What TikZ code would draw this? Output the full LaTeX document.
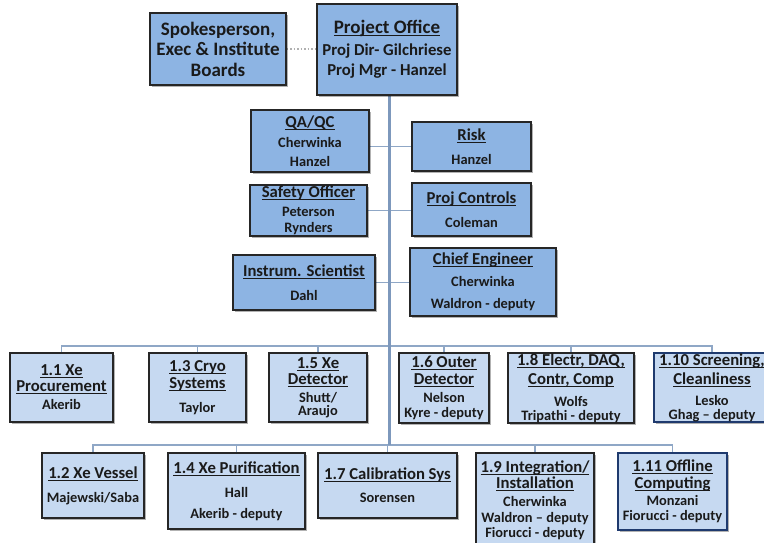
\documentclass[tikz,border=0pt]{standalone}
\usepackage{fontspec}
\setmainfont{Carlito}
\usetikzlibrary{shadows}
\definecolor{topfill}{HTML}{8DB4E3}
\definecolor{wbsfill}{HTML}{C6D9F1}
\definecolor{edgec}{HTML}{262626}
\definecolor{navy}{HTML}{1F3A6E}
\definecolor{linec}{HTML}{8FA7C6}
\definecolor{trunkc}{HTML}{7D98BC}
\definecolor{dotc}{HTML}{B0B0B0}
\definecolor{txt}{HTML}{1A1A1A}
\pgfdeclarelayer{bg}
\pgfsetlayers{bg,main}
\newcommand{\ttl}[2][16.7]{{\fontsize{#1}{16}\selectfont\setbox0\hbox{#2}\rlap{\rule[-2.2pt]{\wd0}{0.7pt}}\box0}}
\tikzset{
  box/.style={draw=edgec, line width=1.3pt, rectangle, align=center, text=txt, inner sep=0pt,
    font=\fontsize{14.4}{16}\selectfont\bfseries,
    drop shadow={opacity=0.3, shadow xshift=2pt, shadow yshift=-2pt, fill=black}},
  topbox/.style={box, fill=topfill},
  wbsbox/.style={box, fill=wbsfill},
  conn/.style={draw=linec, line width=1.7pt},
  trunk/.style={draw=trunkc, line width=3pt},
  dotline/.style={draw=dotc, line width=1.5pt, dotted},
}
\begin{document}
\begin{tikzpicture}[x=1pt,y=-1pt]
\clip (0,0) rectangle (764,543);

\coordinate (b1) at (389,346);
\coordinate (b2) at (389,445);

% nodes
\node[topbox, minimum width=136pt, minimum height=72pt, font=\fontsize{19}{20.5}\selectfont\bfseries] (spoke) at (218,49)
  {Spokesperson,\\Exec \& Institute\\Boards};
\node[topbox, minimum width=140pt, minimum height=91pt, font=\fontsize{16.7}{20}\selectfont\bfseries] (po) at (387,49.5)
  {\ttl[19]{Project Office}\\[2pt]Proj Dir- Gilchriese\\Proj Mgr - Hanzel};

\node[topbox, minimum width=118pt, minimum height=62pt] (qa) at (310,141)
  {\ttl{QA/QC}\\[4pt]Cherwinka\\[3pt]Hanzel};
\node[topbox, minimum width=119pt, minimum height=49pt] (risk) at (471.5,146.5)
  {\ttl{Risk}\\[8pt]Hanzel};
\node[topbox, minimum width=117pt, minimum height=51pt] (safety) at (308.5,210.5)
  {\ttl{Safety Officer}\\[3pt]Peterson\\Rynders};
\node[topbox, minimum width=119pt, minimum height=53pt] (pc) at (471.5,209.5)
  {\ttl{Proj Controls}\\[8pt]Coleman};
\node[topbox, minimum width=142pt, minimum height=55pt] (instr) at (304,282.5)
  {\ttl{Instrum. Scientist}\\[8pt]Dahl};
\node[topbox, minimum width=146pt, minimum height=68pt] (chief) at (483,282)
  {\ttl{Chief Engineer}\\[6pt]Cherwinka\\[6pt]Waldron - deputy};

\node[wbsbox, minimum width=103pt, minimum height=69pt] (w11) at (61.5,387.5)
  {\ttl{1.1 Xe}\\[0pt]\ttl{Procurement}\\[2pt]Akerib};
\node[wbsbox, minimum width=97pt, minimum height=69pt] (w13) at (197.5,387.5)
  {\ttl{1.3 Cryo}\\[1pt]\ttl{Systems}\\[8pt]Taylor};
\node[wbsbox, minimum width=98pt, minimum height=69pt] (w15) at (318,387.5)
  {\ttl{1.5 Xe}\\[0pt]\ttl{Detector}\\[2pt]Shutt/\\[-3pt]Araujo};
\node[wbsbox, minimum width=90pt, minimum height=70pt] (w16) at (444,388)
  {\ttl{1.6 Outer}\\[1pt]\ttl{Detector}\\[2pt]Nelson\\[-1pt]Kyre - deputy};
\node[wbsbox, minimum width=126pt, minimum height=70pt] (w18) at (571,388)
  {\ttl{1.8 Electr, DAQ,}\\[3pt]\ttl{Contr, Comp}\\[6pt]Wolfs\\[-2pt]Tripathi - deputy};
\node[wbsbox, draw=navy, minimum width=116pt, minimum height=69pt] (w110) at (712,387.5)
  {\ttl{1.10 Screening,}\\[3pt]\ttl{Cleanliness}\\[5pt]Lesko\\[-2pt]Ghag -- deputy};

\node[wbsbox, minimum width=102pt, minimum height=65pt] (w12) at (93,485.5)
  {\ttl{1.2 Xe Vessel}\\[8pt]Majewski/Saba};
\node[wbsbox, minimum width=137pt, minimum height=76pt] (w14) at (236.5,491)
  {\ttl{1.4 Xe Purification}\\[8pt]Hall\\[5pt]Akerib - deputy};
\node[wbsbox, minimum width=139pt, minimum height=65pt] (w17) at (387.5,485.5)
  {\ttl{1.7 Calibration Sys}\\[7pt]Sorensen};
\node[wbsbox, minimum width=118pt, minimum height=94pt] (w19) at (535,500)
  {\ttl{1.9 Integration/}\\[0pt]\ttl{Installation}\\[2pt]Cherwinka\\[0pt]Waldron -- deputy\\[-1pt]Fiorucci - deputy};
\node[wbsbox, draw=navy, minimum width=109pt, minimum height=77pt] (w111) at (672.5,491.5)
  {\ttl{1.11 Offline}\\[1pt]\ttl{Computing}\\[1pt]Monzani\\[-1pt]Fiorucci - deputy};

% connectors (behind boxes)
\begin{pgfonlayer}{bg}
\fill[white] (0,0) rectangle (764,543);
\draw[dotline] (spoke.east) -- (spoke.east -| po.west);
\draw[conn] (qa.east |- risk.west) -- (risk.west);
\draw[conn] (safety.east) -- (safety.east -| pc.west);
\draw[conn] (instr.east) -- (instr.east -| chief.west);
\draw[conn] (w11.north) |- (b1) -| (w110.north);
\draw[conn] (w13.north) -- (w13.north |- b1);
\draw[conn] (w15.north) -- (w15.north |- b1);
\draw[conn] (w16.north) -- (w16.north |- b1);
\draw[conn] (w18.north) -- (w18.north |- b1);
\draw[conn] (w12.north) |- (b2) -| (w111.north);
\draw[conn] (w14.north) -- (w14.north |- b2);
\draw[conn] (w17.north) -- (w17.north |- b2);
\draw[conn] (w19.north) -- (w19.north |- b2);
\draw[trunk] (po.south -| b1) -- (b2);
\end{pgfonlayer}
\end{tikzpicture}
\end{document}
